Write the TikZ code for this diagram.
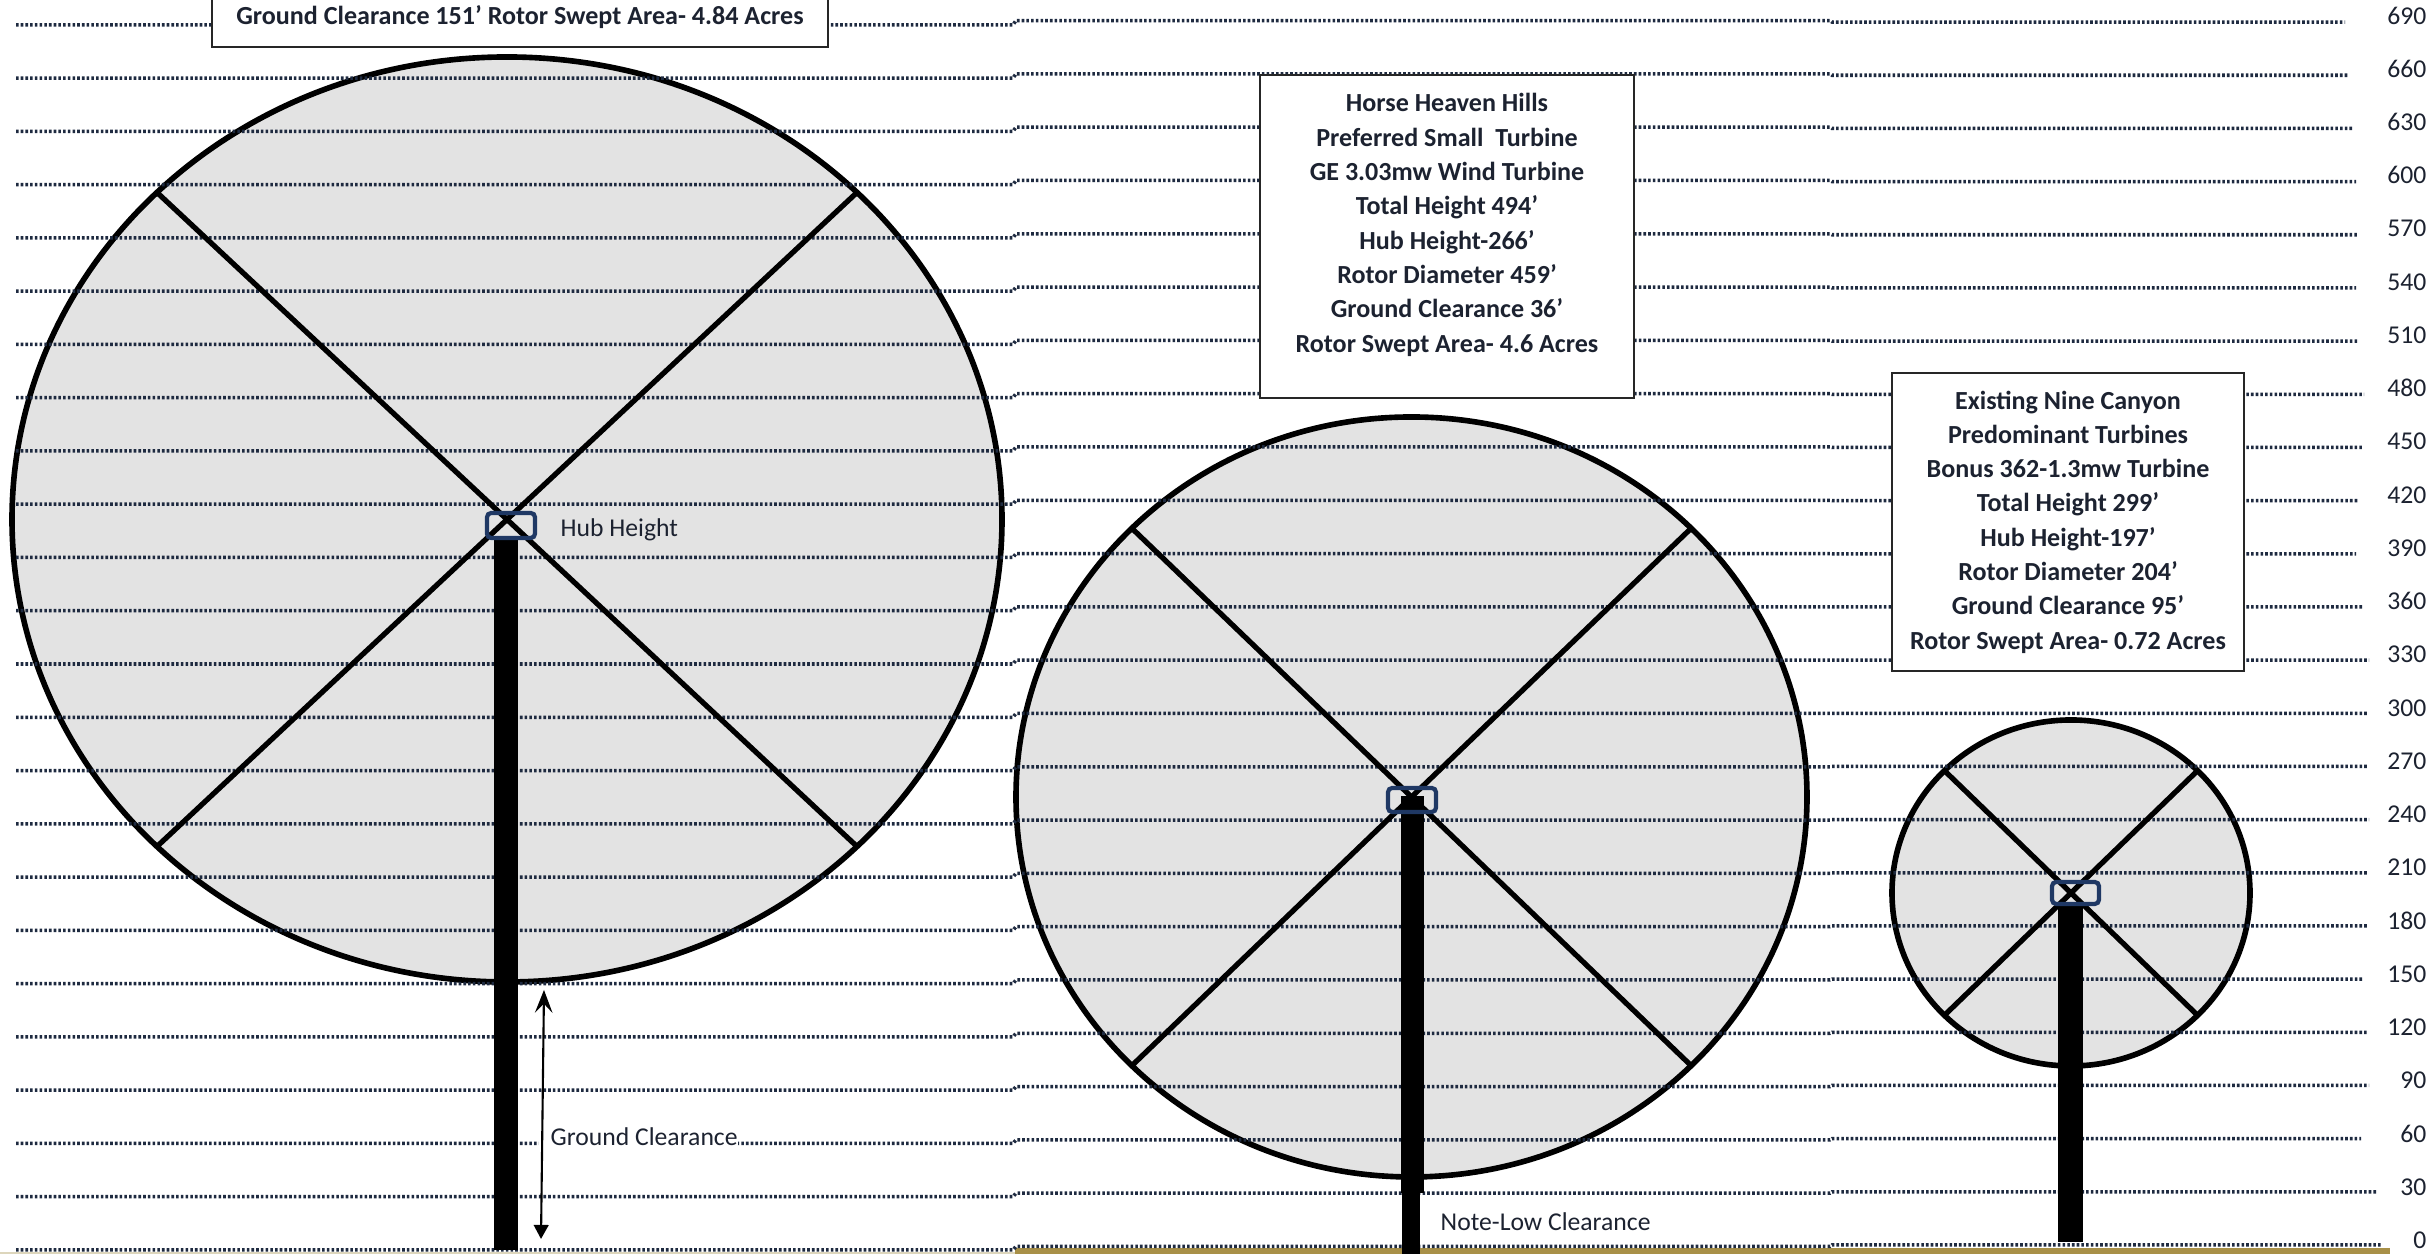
\documentclass[tikz,border=0pt]{standalone}
\usepackage{fontspec}
\setmainfont{Carlito}
\usetikzlibrary{arrows.meta, shapes.geometric}
\definecolor{rotorFill}{HTML}{E3E3E3}
\definecolor{gridDot}{HTML}{1E2A40}
\definecolor{hubLine}{HTML}{1F3864}
\definecolor{groundTan}{HTML}{A89048}
\definecolor{groundPale}{HTML}{DDD6BC}
\definecolor{labelInk}{HTML}{1C2230}
\tikzset{
  rotor/.style={
    ellipse, draw=black, line width=1.6pt, fill=rotorFill, inner sep=0pt, outer sep=0pt,
  },
  blade/.style={draw=black, line width=1.5pt},
  gridline/.style={draw=gridDot, line width=1pt, dash pattern=on 0.74pt off 0.6pt},
  hub/.style={
    draw=hubLine, line width=1.2pt, rounded corners=1.2pt, inner sep=0pt, outer sep=0pt,
  },
  tower/.style={fill=black, anchor=north, inner sep=0pt, outer sep=0pt},
  infobox/.style={
    draw=black!85, line width=0.6pt, fill=white, align=center, inner sep=0pt, outer sep=0pt,
    font=\fontsize{7.42}{9.76}\selectfont\bfseries, text=labelInk,
  },
  ticklabel/.style={anchor=east, inner sep=0pt, font=\fontsize{7.3}{9}\selectfont, text=labelInk},
  partlabel/.style={anchor=west, inner sep=0pt, font=\fontsize{7.3}{9}\selectfont, text=labelInk},
  clearance/.style={draw=black, line width=0.6pt, {Stealth[length=6.5pt, width=5pt, inset=2.6pt]}-{Triangle[length=4pt, width=4.2pt]}},
}
\begin{document}
\begin{tikzpicture}
  \useasboundingbox (0,0) rectangle (24.32,12.54);
  \clip (0,0) rectangle (24.32,12.54);
  \fill[white] (0,0) rectangle (24.32,12.54);
  % ground strip
  \fill[groundPale] (0,0) rectangle (10.15,0.02);
  \fill[groundTan] (10.15,0) rectangle (23.90,0.06);
  % rotors
  \node[rotor, minimum width=9.90cm, minimum height=9.25cm] (RotorLarge) at (5.07,7.345) {};
  \node[rotor, minimum width=7.91cm, minimum height=7.60cm] (RotorMedium) at (14.115,4.57) {};
  \node[rotor, minimum width=3.58cm, minimum height=3.46cm] (RotorSmall) at (20.71,3.61) {};
  % elevation lines, each in three slightly offset runs
  \foreach \tickval/\xend [count=\k from 0] in {0/23.81,30/23.76,60/23.61,90/23.69,120/23.67,150/23.63,
      180/23.67,210/23.67,240/23.69,270/23.67,300/23.67,330/23.69,360/23.63,390/23.56,420/23.58,
      450/23.64,480/23.64,510/23.58,540/23.56,570/23.58,600/23.56,630/23.52,660/23.48,690/23.45} {
    \draw[gridline] (0.16,{0.04+0.5327*\k}) -- (10.13,{0.04+0.5327*\k})
      -- (10.16,{0.075+0.533*\k}) -- (18.30,{0.075+0.533*\k})
      -- (18.32,{0.09+0.5317*\k}) -- (\xend,{0.09+0.5317*\k});
    \node[ticklabel] (tick\tickval) at (24.27,{0.135+0.5326*\k}) {\tickval};
  }
  % blades
  \foreach \rotorname in {RotorLarge,RotorMedium,RotorSmall} {
    \draw[blade] (\rotorname.north west) -- (\rotorname.south east);
    \draw[blade] (\rotorname.north east) -- (\rotorname.south west);
  }
  % towers and hubs
  \node[tower, minimum width=0.24cm, minimum height=7.12cm] (TowerLarge) at (5.055,7.16) {};
  \node[tower, minimum width=0.18cm, minimum height=1.00cm] (TowerMediumFoot) at (14.11,0.99) {};
  \node[tower, minimum width=0.23cm, minimum height=3.97cm] (TowerMedium) at (14.12,4.58) {};
  \node[tower, minimum width=0.25cm, minimum height=3.38cm] (TowerSmall) at (20.705,3.50) {};
  \node[hub, minimum width=0.48cm, minimum height=0.25cm] (HubLarge) at (5.11,7.285) {};
  \node[hub, minimum width=0.48cm, minimum height=0.24cm] (HubMedium) at (14.12,4.54) {};
  \node[hub, minimum width=0.47cm, minimum height=0.22cm] (HubSmall) at (20.755,3.61) {};
  % labels
  \node[partlabel] (HubLabel) at (5.60,7.24) {Hub Height};
  \node[partlabel, fill=white, minimum height=0.27cm] (ClearLabel) at (5.38,1.17) {\hspace{0.12cm}Ground Clearance\hspace{0.03cm}};
  \node[partlabel] (NoteLabel) at (14.40,0.32) {Note-Low Clearance};
  \coordinate (ClearTop) at (5.44,2.64);
  \coordinate (ClearFoot) at (5.41,0.15);
  \draw[clearance] (ClearTop) -- (ClearFoot);
  % info boxes
  \node[infobox, anchor=south, minimum width=6.16cm] (InfoLarge) at (5.20,12.07) {\mbox{}\\Ground Clearance 151’ Rotor Swept Area- 4.84 Acres\\[-0.12cm]\mbox{}};
  \node[infobox, minimum width=3.74cm, minimum height=3.23cm] (InfoMedium) at (14.47,10.175) {Horse Heaven Hills\\Preferred Small~~Turbine\\GE 3.03mw Wind Turbine\\Total Height 494’\\Hub Height-266’\\Rotor Diameter 459’\\Ground Clearance 36’\\Rotor Swept Area- 4.6 Acres\\[-0.07cm]\mbox{}};
  \node[infobox, minimum width=3.52cm, minimum height=2.98cm] (InfoSmall) at (20.68,7.32) {Existing Nine Canyon\\Predominant Turbines\\Bonus 362-1.3mw Turbine\\Total Height 299’\\Hub Height-197’\\Rotor Diameter 204’\\Ground Clearance 95’\\Rotor Swept Area- 0.72 Acres};
\end{tikzpicture}
\end{document}
